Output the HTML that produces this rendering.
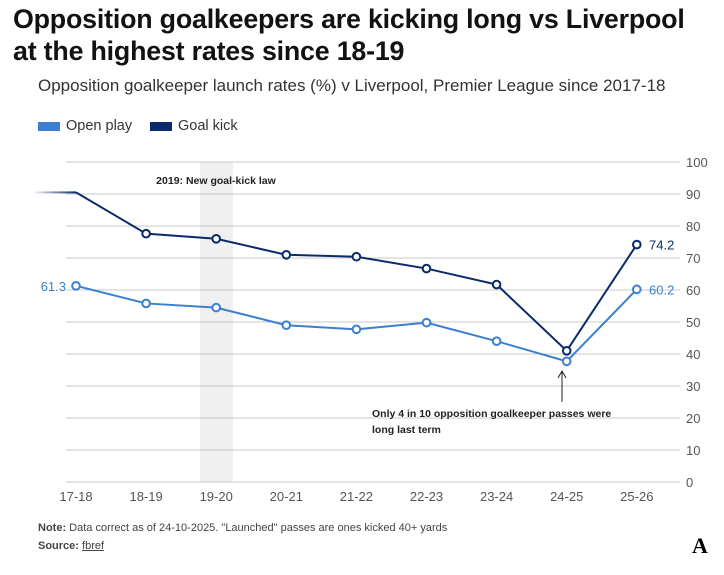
<!DOCTYPE html>
<html><head><meta charset="utf-8"><style>
body{margin:0;background:#fff;font-family:"Liberation Sans",sans-serif;}
.wrap{position:relative;width:724px;height:575px;overflow:hidden}
h1{position:absolute;left:13px;top:3px;margin:0;font-size:26.8px;line-height:32px;font-weight:bold;color:#121212;letter-spacing:-0.2px}
.sub{position:absolute;left:38px;top:76px;font-size:17px;color:#333}
.leg{position:absolute;top:118px;font-size:14.5px;color:#333;display:flex;align-items:center}
.leg span{display:inline-block;width:22px;height:9px;margin-right:6px}
.note{position:absolute;left:38px;font-size:11px;color:#444}
</style></head><body><div class="wrap">
<h1>Opposition goalkeepers are kicking long vs Liverpool<br>at the highest rates since 18-19</h1>
<div class="sub">Opposition goalkeeper launch rates (%) v Liverpool, Premier League since 2017-18</div>
<div class="leg" style="left:38px"><span style="background:#3a7fd0"></span>Open play</div>
<div class="leg" style="left:150px"><span style="background:#0b2a6b"></span>Goal kick</div>
<svg id="svg" width="724" height="575" style="position:absolute;left:0;top:0">
<defs><linearGradient id="g" x1="0" x2="1" y1="0" y2="0"><stop offset="0" stop-color="#0b2a6b" stop-opacity="0"/><stop offset="1" stop-color="#0b2a6b" stop-opacity="1"/></linearGradient></defs>
</svg>
<div class="note" style="top:522px"><b>Note:</b> Data correct as of 24-10-2025. "Launched" passes are ones kicked 40+ yards</div>
<div class="note" style="top:540px"><b>Source:</b> <u>fbref</u></div>
<div style="position:absolute;left:692px;top:533px;font-family:'Liberation Serif',serif;font-size:22px;font-weight:bold">A</div>
</div>
<script>
const categories=["17-18","18-19","19-20","20-21","21-22","22-23","23-24","24-25","25-26"];
const openPlay=[61.3,55.8,54.5,49.0,47.7,49.8,44.0,37.7,60.2];
const goalKick=[90.5,77.6,76.0,71.0,70.4,66.7,61.7,41.0,74.2];
const yTicks=[0,10,20,30,40,50,60,70,80,90,100];
const NS="http://www.w3.org/2000/svg",svg=document.getElementById('svg');
const x=i=>76+i*70.1, y=v=>482-v*3.2;
function el(t,a){const e=document.createElementNS(NS,t);for(const k in a)e.setAttribute(k,a[k]);svg.appendChild(e);return e;}
let b=el('rect',{x:200,y:y(100),width:33,height:y(0)-y(100),fill:'#f0f0f0'});

yTicks.forEach(t=>{let l=el('line',{x1:66,x2:680,y1:y(t),y2:y(t),stroke:'#c8c8c8'});

let tx=el('text',{x:686,y:y(t)+5,'font-size':13,fill:'#555'});tx.textContent=t;
});
categories.forEach((c,i)=>{let t=el('text',{x:x(i),y:501,'font-size':13,fill:'#555','text-anchor':'middle'});t.textContent=c;
});
let lt=el('text',{x:216,y:184,'font-size':10.5,'font-weight':'bold',fill:'#222','text-anchor':'middle'});lt.textContent='2019: New goal-kick law';

function series(d,col,name,hideFirst){
 let p=el('polyline',{points:d.map((v,i)=>x(i)+','+y(v)).join(' '),fill:'none',stroke:col,'stroke-width':2});
 
 d.forEach((v,i)=>{if(hideFirst&&i==0)return;let c=el('circle',{cx:x(i),cy:y(v),r:3.8,fill:'#fff',stroke:col,'stroke-width':2});
 });
}
series(goalKick,'#0b2a6b','goal-kick',true);
let f=el('rect',{x:32,y:y(goalKick[0])-1,width:x(0)-32,height:2,fill:'url(#g)'});

series(openPlay,'#3a7fd0','open-play',false);
function lab(tx,xx,yy,col,anc){let t=el('text',{x:xx,y:yy,'font-size':13,fill:col,'text-anchor':anc});t.textContent=tx;
}
lab(openPlay[0].toFixed(1),66,y(openPlay[0])+5,'#3a7fd0','end');
lab(openPlay[8].toFixed(1),649,y(openPlay[8])+5,'#3a7fd0','start');
lab(goalKick[8].toFixed(1),649,y(goalKick[8])+5,'#0b2a6b','start');
let a=el('line',{x1:562,x2:562,y1:402,y2:372,stroke:'#222','stroke-width':1});

let ah=el('polyline',{points:'558,378 562,371 566,378',fill:'none',stroke:'#222'});

[['Only 4 in 10 opposition goalkeeper passes were',417],['long last term',433]].forEach(([s,yy])=>{
let t=el('text',{x:372,y:yy,'font-size':10.5,'font-weight':'bold',fill:'#222'});t.textContent=s;
});
</script></body></html>
